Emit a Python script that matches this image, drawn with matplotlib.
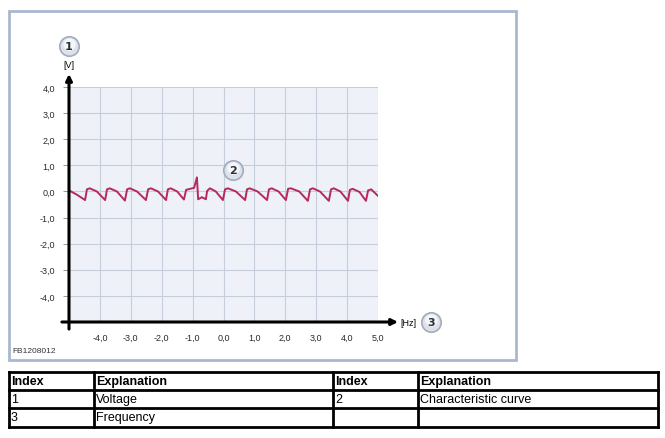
import matplotlib
matplotlib.use("Agg")
import matplotlib.pyplot as plt
from matplotlib.patches import Rectangle

# signal
freq_hz = [-5.0, -4.75, -4.48, -4.42, -4.33, -4.10, -3.83, -3.77, -3.68, -3.45,
           -3.19, -3.12, -3.03, -2.80, -2.51, -2.44, -2.35, -2.12, -1.86, -1.80,
           -1.71, -1.50, -1.28, -1.21, -0.95, -0.86, -0.82, -0.70, -0.57, -0.53,
           -0.44, -0.25, -0.02, 0.05, 0.14, 0.40, 0.70, 0.76, 0.85, 1.10,
           1.41, 1.47, 1.56, 1.78, 2.02, 2.09, 2.18, 2.45, 2.73, 2.80,
           2.89, 3.12, 3.41, 3.48, 3.57, 3.78, 4.03, 4.09, 4.18, 4.40,
           4.61, 4.68, 4.78, 5.0]
volt = [0.04, -0.12, -0.33, 0.08, 0.12, 0.0, -0.33, 0.08, 0.12, 0.0,
        -0.35, 0.08, 0.12, 0.0, -0.33, 0.08, 0.12, 0.0, -0.33, 0.08,
        0.12, 0.0, -0.31, 0.06, 0.14, 0.54, -0.30, -0.22, -0.30, 0.02,
        0.12, 0.0, -0.33, 0.08, 0.12, 0.0, -0.33, 0.08, 0.12, 0.0,
        -0.33, 0.08, 0.12, 0.0, -0.33, 0.10, 0.12, 0.0, -0.36, 0.08,
        0.12, 0.0, -0.36, 0.08, 0.12, 0.0, -0.36, 0.06, 0.10, -0.02,
        -0.36, 0.04, 0.08, -0.17]

x_ticks = [-4, -3, -2, -1, 0, 1, 2, 3, 4, 5]
y_ticks = [-4, -3, -2, -1, 0, 1, 2, 3, 4]

table_rows = [["Index", "Explanation", "Index", "Explanation"],
              ["1", "Voltage", "2", "Characteristic curve"],
              ["3", "Frequency", "", ""]]

W, H = 665, 439
fig = plt.figure(figsize=(W / 100, H / 100), dpi=100)

# outer frame of the picture
fig.patches.append(Rectangle((9 / W, 1 - 361 / H), 507 / W, 349 / H,
                             transform=fig.transFigure, fill=False,
                             edgecolor="#a9b8cf", linewidth=2))

ax = fig.add_axes([69 / W, 1 - 323 / H, 309 / W, 235 / H])
ax.set_facecolor("#eef2f8")
ax.set_xlim(-5, 5)
ax.set_ylim(-5, 4)
for s in ax.spines.values():
    s.set_visible(False)
ax.set_xticks(x_ticks)
ax.set_yticks(y_ticks)
ax.grid(True, color="#c6cedb", linewidth=0.8)
ax.set_axisbelow(True)
ax.set_xticklabels([f"{v:.1f}".replace(".", ",") for v in x_ticks],
                   fontsize=6.5, family="Liberation Sans", color="#2a2a2a")
ax.set_yticklabels([f"{v:.1f}".replace(".", ",") for v in y_ticks],
                   fontsize=6.5, family="Liberation Sans", color="#2a2a2a")
ax.tick_params(axis="x", length=0, pad=8)
ax.tick_params(axis="y", length=4, width=0.6, color="#888888", pad=6)

ax.plot(freq_hz, volt, color="#b52a5c", linewidth=1.4, zorder=3)

# axis arrows
ax.annotate("", xy=(-5, 4.5), xytext=(-5, -5.27), annotation_clip=False,
            arrowprops=dict(arrowstyle="-|>", color="black", lw=2.2,
                            mutation_scale=9, shrinkA=0, shrinkB=0))
ax.annotate("", xy=(5.65, -5), xytext=(-5.23, -5), annotation_clip=False,
            arrowprops=dict(arrowstyle="-|>", color="black", lw=2.2,
                            mutation_scale=9, shrinkA=0, shrinkB=0))

ax.text(-5, 4.85, "[V]", ha="center", va="center", fontsize=6.5,
        family="Liberation Sans", clip_on=False)
ax.text(6.0, -5, "[Hz]", ha="center", va="center", fontsize=6.5,
        family="Liberation Sans", clip_on=False)

# numbered callouts
for cx, cy, lab in [(-5, 5.57, "1"), (0.31, 0.82, "2"), (6.71, -5, "3")]:
    ax.plot(cx, cy, "o", markersize=14, markerfacecolor="#dde2ea",
            markeredgecolor="#a3acbb", markeredgewidth=1.2, clip_on=False,
            zorder=5)
    ax.plot(cx, cy + 0.06, "o", markersize=9, markerfacecolor="#f4f6f9",
            markeredgewidth=0, clip_on=False, zorder=5)
    ax.text(cx, cy, lab, ha="center", va="center", fontsize=8,
            fontweight="bold", color="#2d3038", clip_on=False, zorder=6)

fig.text(12 / W, 1 - 352 / H, "FB1208012", fontsize=6,
         family="Liberation Sans", color="#333333", va="center")

# legend table below the picture
col_x = [9, 94, 333, 418, 658]
row_y = [373, 391, 409, 428]
for x in col_x:
    fig.add_artist(plt.Line2D([x / W, x / W], [1 - row_y[0] / H, 1 - row_y[-1] / H],
                              color="black", linewidth=2))
for y in row_y:
    fig.add_artist(plt.Line2D([col_x[0] / W, col_x[-1] / W], [1 - y / H, 1 - y / H],
                              color="black", linewidth=2))
for r, row in enumerate(table_rows):
    yc = (row_y[r] + row_y[r + 1]) / 2
    for c, txt in enumerate(row):
        fig.text((col_x[c] + 2) / W, 1 - yc / H, txt, va="center", ha="left",
                 fontsize=9, family="Liberation Sans",
                 fontweight="bold" if r == 0 else "normal")

fig.savefig("out.png", dpi=100)
